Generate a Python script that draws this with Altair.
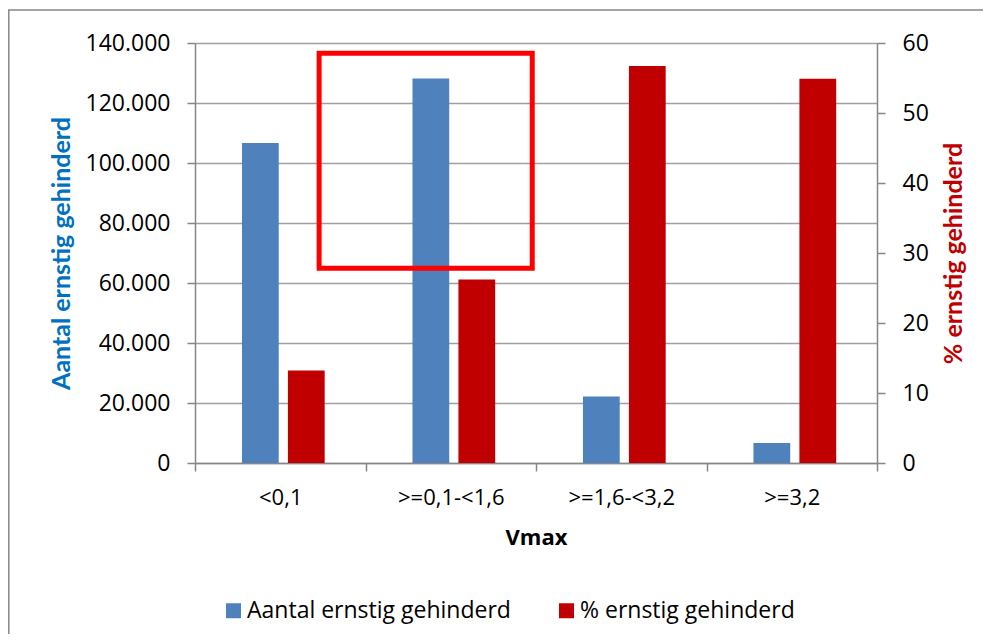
import altair as alt
import pandas as pd

categories = ["<0,1", ">=0,1-<1,6", ">=1,6-<3,2", ">=3,2"]
series = ["Aantal ernstig gehinderd", "% ernstig gehinderd"]
aantal = [106700, 128200, 22200, 6700]
percent = [13.2, 26.2, 56.7, 54.9]
colors = ["#4F81BD", "#C00000"]
left_ticks = [0, 20000, 40000, 60000, 80000, 100000, 120000, 140000]
right_ticks = [0, 10, 20, 30, 40, 50, 60]

# highlight box (x in category-index units, y in left-axis units)
box_x = [0.728, 1.978]
box_y = [64900, 136600]

df_a = pd.DataFrame({"category": categories, "series": series[0], "value": aantal})
df_p = pd.DataFrame({"category": categories, "series": series[1], "value": percent})
df_box = pd.DataFrame({"x0": [box_x[0]], "x1": [box_x[1]], "y0": [box_y[0]], "y1": [box_y[1]]})
df_one = pd.DataFrame({"a": [0]})

W, H = 682, 420
PAD = {"left": 187, "top": 35, "right": 975 - 187 - W, "bottom": 626 - 35 - H}

AX = "#868686"
LABEL_FONT = "Open Sans"

x_scale = alt.Scale(domain=categories, paddingInner=0, paddingOuter=0)
xo_scale = alt.Scale(domain=series, paddingInner=0.2, paddingOuter=0.955, align=0.535)
color = alt.Color(
    "series:N",
    scale=alt.Scale(domain=series, range=colors),
    title=None,
    legend=alt.Legend(
        orient="none", legendX=27, legendY=556, direction="horizontal",
        symbolType="square", symbolSize=225, symbolStrokeWidth=0,
        labelFont=LABEL_FONT, labelFontSize=23, labelColor="black",
        labelOffset=2, columnPadding=44, labelLimit=400,
    ),
)

x_axis = alt.Axis(
    title="Vmax", titleFont=LABEL_FONT, titleFontWeight="bold", titleFontSize=22,
    titleColor="black", titlePadding=19,
    labelFont=LABEL_FONT, labelFontSize=22, labelColor="black", labelAngle=0,
    labelPadding=16, tickBand="extent", tickSize=8, tickColor=AX, tickWidth=1.5,
    domainColor=AX, domainWidth=1.5, grid=False,
)

left_axis = alt.Axis(
    orient="left", values=left_ticks,
    labelExpr="replace(format(datum.value, ','), ',', '.')",
    labelFont=LABEL_FONT, labelFontSize=23, labelColor="black", labelPadding=17,
    tickSize=8, tickColor=AX, tickWidth=1.5, domainColor=AX, domainWidth=1.5,
    grid=True, gridColor="#A0A0A0", gridWidth=1.3,
    title="Aantal ernstig gehinderd", titleFont="Lato", titleFontWeight="bold",
    titleFontSize=25, titleColor="#0070C0", titlePadding=11,
)

right_axis = alt.Axis(
    orient="right", values=right_ticks,
    labelFont=LABEL_FONT, labelFontSize=23, labelColor="black", labelPadding=17,
    tickSize=8, tickColor=AX, tickWidth=1.5, domainColor=AX, domainWidth=1.5,
    grid=False,
    title="% ernstig gehinderd", titleFont="Lato", titleFontWeight="bold",
    titleFontSize=25, titleColor="#C00000", titlePadding=13,
    titleAngle=270, titleBaseline="top",
)

blue = alt.Chart(df_a).mark_bar().encode(
    x=alt.X("category:N", sort=categories, scale=x_scale, axis=x_axis),
    xOffset=alt.XOffset("series:N", scale=xo_scale),
    y=alt.Y("value:Q", scale=alt.Scale(domain=[0, 140000], nice=False), axis=left_axis),
    color=color,
)

red = alt.Chart(df_p).mark_bar().encode(
    x=alt.X("category:N", sort=categories, scale=x_scale, axis=None),
    xOffset=alt.XOffset("series:N", scale=xo_scale),
    y=alt.Y("value:Q", scale=alt.Scale(domain=[0, 60], nice=False), axis=right_axis),
    color=color,
)

box = alt.Chart(df_box).mark_rect(
    fillOpacity=0, stroke="#FF0000", strokeWidth=5
).encode(
    x=alt.X("x0:Q", scale=alt.Scale(domain=[0, 4], nice=False, zero=False), axis=None),
    x2="x1:Q",
    y=alt.Y("y0:Q", scale=alt.Scale(domain=[0, 140000], nice=False), axis=None),
    y2="y1:Q",
)

border = alt.Chart(df_one).mark_rect(
    fillOpacity=0, stroke=AX, strokeWidth=1.5
).encode(
    x=alt.value(-186.2), x2=alt.value(W + PAD["right"] + 30),
    y=alt.value(-33), y2=alt.value(H + PAD["bottom"] + 30),
)

chart = alt.layer(border, blue, red, box).resolve_scale(
    x="independent", y="independent"
).properties(
    width=W, height=H,
    autosize=alt.AutoSizeParams(type="none"),
    padding=PAD,
    background="white",
).configure_view(stroke="transparent")

chart.save("out.html", embed_options={"renderer": "svg", "actions": False})
